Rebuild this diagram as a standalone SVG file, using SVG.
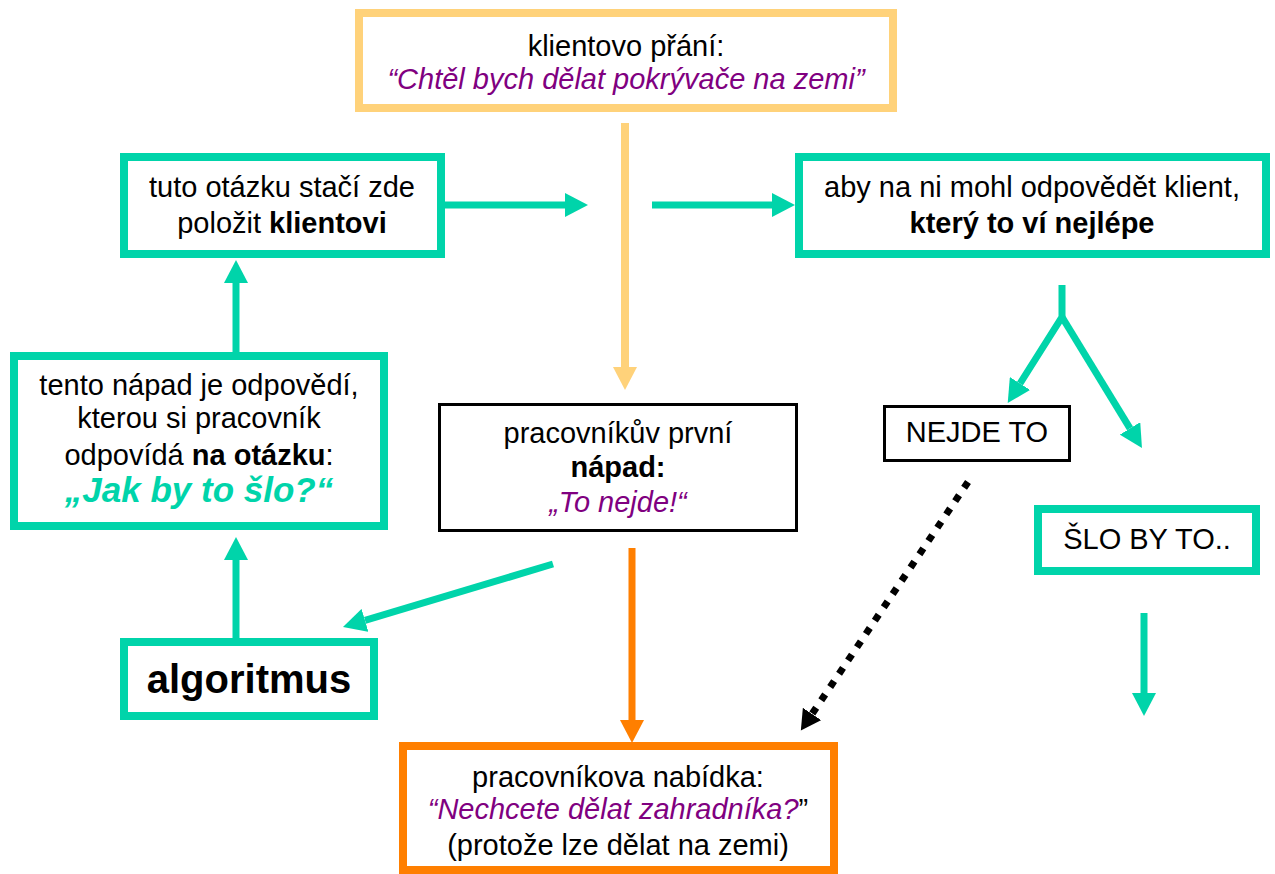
<svg xmlns="http://www.w3.org/2000/svg" width="1275" height="874" viewBox="0 0 1275 874">
<defs>
<style>
text{font-family:"Liberation Sans",Arial,sans-serif;font-size:29px;fill:#000;text-anchor:middle}
.b{font-weight:bold}
.i{font-style:italic;fill:#800080}
.g{fill:#fff;stroke:#00D4AA;stroke-width:8}
.k{fill:#fff;stroke:#000;stroke-width:3}
.y{fill:#fff;stroke:#FFD27A;stroke-width:8}
.o{fill:#fff;stroke:#FF7F00;stroke-width:8}
.cg{fill:none;stroke:#00D4AA;stroke-width:7;marker-end:url(#hg)}
.cy{fill:none;stroke:#FFD27A;stroke-width:8;marker-end:url(#hy)}
.co{fill:none;stroke:#FF7F00;stroke-width:7;marker-end:url(#ho)}
.ck{fill:none;stroke:#000;stroke-width:7;stroke-dasharray:7 9;marker-end:url(#hk)}
</style>
<marker id="hg" markerUnits="userSpaceOnUse" markerWidth="24" markerHeight="24" refX="0" refY="12" orient="auto"><path d="M0,0 L23,12 L0,24 z" fill="#00D4AA"/></marker>
<marker id="hy" markerUnits="userSpaceOnUse" markerWidth="24" markerHeight="24" refX="0" refY="12" orient="auto"><path d="M0,0 L23,12 L0,24 z" fill="#FFD27A"/></marker>
<marker id="ho" markerUnits="userSpaceOnUse" markerWidth="24" markerHeight="24" refX="0" refY="12" orient="auto"><path d="M0,0 L23,12 L0,24 z" fill="#FF7F00"/></marker>
<marker id="hk" markerUnits="userSpaceOnUse" markerWidth="24" markerHeight="24" refX="0" refY="11" orient="auto"><path d="M0,0 L20,11 L0,22 z" fill="#000"/></marker>
</defs>
<rect width="1275" height="874" fill="#fff"/>
<g id="connectors">
<path class="cy" d="M625,123 L625,367"/>
<path class="cg" d="M445,205 L565,205"/>
<path class="cg" d="M652,205 L772,205"/>
<path class="cg" d="M236,352 L236,283"/>
<path class="cg" d="M236,638 L236,560"/>
<path class="cg" d="M553,564 L365,620.4"/>
<path class="cg" d="M1062,285 L1062,317 L1020,383.5"/>
<path class="cg" d="M1062,317 L1130,428.4"/>
<path class="cg" d="M1144,613 L1144,693"/>
<path class="co" d="M632,548 L632,720"/>
<path class="ck" d="M968,482 L812,714"/>
</g>
<g id="wish">
<rect class="y" x="359" y="13" width="534" height="95"/>
<text x="626" y="56">klientovo přání:</text>
<text class="i" x="626" y="89">“Chtěl bych dělat pokrývače na zemi”</text>
</g>
<g id="ask">
<rect class="g" x="124" y="157" width="317" height="97"/>
<text x="282" y="197">tuto otázku stačí zde</text>
<text x="282" y="233">položit <tspan class="b">klientovi</tspan></text>
</g>
<g id="client">
<rect class="g" x="799" y="157" width="467" height="97"/>
<text x="1032" y="197">aby na ni mohl odpovědět klient,</text>
<text class="b" x="1032" y="233">který to ví nejlépe</text>
</g>
<g id="answer">
<rect class="g" x="14" y="356" width="370" height="170"/>
<text x="199" y="395">tento nápad je odpovědí,</text>
<text x="199" y="428">kterou si pracovník</text>
<text x="199" y="465">odpovídá <tspan class="b">na otázku</tspan>:</text>
<text class="b" x="199" y="502" style="font-style:italic;fill:#00D4AA;font-size:35px">„Jak by to šlo?“</text>
</g>
<g id="algo">
<rect class="g" x="124" y="642" width="250" height="74"/>
<text class="b" x="249" y="693" style="font-size:40px">algoritmus</text>
</g>
<g id="idea">
<rect class="k" x="439.5" y="404.5" width="357" height="126"/>
<text x="618" y="443">pracovníkův první</text>
<text class="b" x="618" y="477">nápad:</text>
<text class="i" x="618" y="512">„To nejde!“</text>
</g>
<g id="nejde">
<rect class="k" x="884.5" y="406.5" width="185" height="54"/>
<text x="977" y="442">NEJDE TO</text>
</g>
<g id="slo">
<rect class="g" x="1038" y="509" width="218" height="62"/>
<text x="1147" y="549">ŠLO BY TO..</text>
</g>
<g id="offer">
<rect class="o" x="403" y="746" width="431" height="124"/>
<text x="618" y="787">pracovníkova nabídka:</text>
<text x="618" y="819"><tspan class="i">“Nechcete dělat zahradníka?</tspan>”</text>
<text x="618" y="855">(protože lze dělat na zemi)</text>
</g>
</svg>
